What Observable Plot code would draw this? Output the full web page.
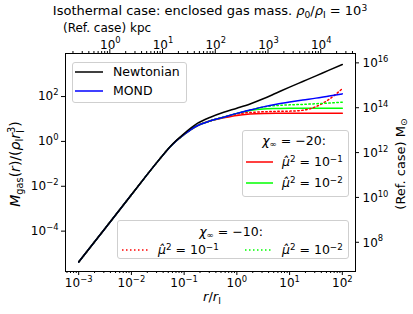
<!DOCTYPE html>
<html><head><meta charset="utf-8">
<script src="https://cdn.jsdelivr.net/npm/d3@7"></script>
<script src="https://cdn.jsdelivr.net/npm/@observablehq/plot@0.6"></script>
<style>
html,body{margin:0;padding:0;background:#fff;}
#wrap{position:relative;width:413px;height:314px;overflow:hidden;font-family:"DejaVu Sans",sans-serif;color:#000;}
#wrap > svg{position:absolute;left:0;top:0;}
.t{position:absolute;white-space:nowrap;line-height:1;}
.t sup{font-size:70%;vertical-align:0.45em;line-height:0;}
.t sub{font-size:70%;vertical-align:-0.3em;line-height:0;}
.leg{position:absolute;border:1px solid #cfcfcf;border-radius:3px;background:rgba(255,255,255,0.8);box-sizing:border-box;}
.sw{position:absolute;overflow:visible;}
</style></head>
<body><div id="wrap"></div>
<script>
// ---- data (log10 values) ----
const logR          = [-3, -2.5, -2, -1.5, -1.25, -1, -0.75, -0.5, -0.25, 0, 0.25, 0.5, 0.75, 1, 1.25, 1.5, 1.75, 2];
const logNewtonian  = [-5.38, -3.88, -2.38, -0.89, -0.19, 0.35, 0.80, 1.08, 1.30, 1.48, 1.67, 1.90, 2.16, 2.42, 2.67, 2.92, 3.18, 3.43];
const logMOND       = [-5.38, -3.88, -2.38, -0.89, -0.20, 0.31, 0.70, 0.92, 1.08, 1.25, 1.40, 1.54, 1.66, 1.76, 1.85, 1.93, 2.03, 2.12];
const logChi20Mu1   = [-5.38, -3.88, -2.38, -0.89, -0.20, 0.31, 0.70, 0.92, 1.05, 1.16, 1.22, 1.25, 1.26, 1.26, 1.26, 1.26, 1.26, 1.26];
const logChi20Mu2   = [-5.38, -3.88, -2.38, -0.89, -0.20, 0.31, 0.70, 0.92, 1.08, 1.25, 1.38, 1.45, 1.47, 1.48, 1.48, 1.48, 1.48, 1.48];
const logChi10Mu1   = [-5.38, -3.88, -2.38, -0.89, -0.20, 0.31, 0.70, 0.92, 1.08, 1.22, 1.29, 1.32, 1.34, 1.35, 1.39, 1.55, 1.88, 2.35];
const logChi10Mu2   = [-5.38, -3.88, -2.38, -0.89, -0.20, 0.31, 0.70, 0.92, 1.08, 1.25, 1.40, 1.53, 1.60, 1.63, 1.65, 1.68, 1.71, 1.75];

const xTickExp   = [-3, -2, -1, 0, 1, 2];
const yTickExp   = [-4, -2, 0, 2];
const kpcTickExp = [0, 1, 2, 3, 4];
const msunTickExp = [8, 10, 12, 14, 16];
const logKpcPerRI = 2.4;     // reference case: r_I in kpc
const logMsunPerUnit = 12.52; // reference case: rho_I r_I^3 in Msun

const xDomain = [10 ** -3.25, 10 ** 2.25];
const yDomain = [10 ** -5.80, 10 ** 3.92];

const rows = vals => logR.map((lr, i) => ({r: 10 ** lr, m: 10 ** vals[i]}));
const pow = e => "10^" + (e < 0 ? "\u2212" + (-e) : String(e));

const minorBottom = [], minorTop = [];
for (let e = -5; e <= 5; e++) for (let k = 2; k <= 9; k++) {
  const v = k * 10 ** e;
  if (v > xDomain[0] && v < xDomain[1]) minorBottom.push(v);
  const w = k * 10 ** e / 10 ** logKpcPerRI;
  if (w > xDomain[0] && w < xDomain[1]) minorTop.push(w);
}

const lineOpts = (stroke, dash) => ({x: "r", y: "m", stroke, strokeWidth: 1.5, curve: "monotone-x", strokeDasharray: dash});

const M = {left: 65, right: 58, top: 53, bottom: 43};
const chart = Plot.plot({
  width: 413, height: 314,
  marginLeft: M.left, marginRight: M.right, marginTop: M.top, marginBottom: M.bottom,
  x: {type: "log", domain: xDomain},
  y: {type: "log", domain: yDomain},
  style: {fontFamily: "DejaVu Sans", fontSize: "12px", background: "white", color: "black", overflow: "visible"},
  marks: [
    Plot.line(rows(logChi20Mu1), lineOpts("#ff0000")),
    Plot.line(rows(logChi20Mu2), lineOpts("#00ff00")),
    Plot.line(rows(logChi10Mu1), lineOpts("#ff0000", "1.5,2.5")),
    Plot.line(rows(logChi10Mu2), lineOpts("#00ff00", "1.5,2.5")),
    Plot.line(rows(logMOND), lineOpts("#0000ff")),
    Plot.line(rows(logNewtonian), lineOpts("#000000")),
    Plot.frame({stroke: "black", strokeWidth: 1}),
    Plot.axisX({anchor: "bottom", ticks: xTickExp.map(e => 10 ** e), tickFormat: d => pow(Math.round(Math.log10(d))), tickSize: 4, tickPadding: 3, label: null}),
    Plot.axisX({anchor: "bottom", ticks: minorBottom, tickFormat: () => "", tickSize: 2, label: null}),
    Plot.axisY({anchor: "left", ticks: yTickExp.map(e => 10 ** e), tickFormat: d => pow(Math.round(Math.log10(d))), tickSize: 4, tickPadding: 3, label: null}),
    // secondary (reference-case) axes: top in kpc, right in solar masses
    Plot.text(kpcTickExp, {x: e => 10 ** e / 10 ** logKpcPerRI, frameAnchor: "top", dy: -5, lineAnchor: "bottom", text: e => pow(e)}),
    Plot.text(msunTickExp, {y: e => 10 ** e / 10 ** logMsunPerUnit, frameAnchor: "right", dx: 7, textAnchor: "start", text: e => pow(e)})
  ]
});

// secondary-axis tick marks, positioned with the Plot scales
const sx = chart.scale("x"), sy = chart.scale("y");
const svg = d3.select(chart);
const yTop = M.top, xRight = 413 - M.right;
const gT = svg.append("g").attr("stroke", "black").attr("stroke-width", 1);
kpcTickExp.forEach(e => { const px = sx.apply(10 ** e / 10 ** logKpcPerRI); gT.append("line").attr("x1", px).attr("x2", px).attr("y1", yTop).attr("y2", yTop - 4); });
minorTop.forEach(v => { const px = sx.apply(v); gT.append("line").attr("x1", px).attr("x2", px).attr("y1", yTop).attr("y2", yTop - 2); });
msunTickExp.forEach(e => { const py = sy.apply(10 ** e / 10 ** logMsunPerUnit); gT.append("line").attr("x1", xRight).attr("x2", xRight + 4).attr("y1", py).attr("y2", py); });

// turn "10^e" tick labels into superscripts
svg.selectAll("text").each(function () {
  const s = this.textContent;
  if (!s.includes("^")) return;
  const [b, e] = s.split("^");
  const t = d3.select(this);
  t.text(null);
  t.append("tspan").text(b);
  t.append("tspan").attr("font-size", "70%").attr("dy", "-0.62em").text(e);
});

const wrap = document.getElementById("wrap");
wrap.appendChild(chart);

function txt(html, x, y, style = "") {
  const d = document.createElement("div");
  d.className = "t";
  d.innerHTML = html;
  d.style.cssText += `left:${x}px;top:${y}px;` + style;
  wrap.appendChild(d);
  return d;
}
function box(x, y, w, h) {
  const d = document.createElement("div");
  d.className = "leg";
  d.style.cssText += `left:${x}px;top:${y}px;width:${w}px;height:${h}px;`;
  wrap.appendChild(d);
}
function swatch(x1, x2, y, color, dash) {
  const ns = "http://www.w3.org/2000/svg";
  const s = document.createElementNS(ns, "svg");
  s.setAttribute("class", "sw");
  s.setAttribute("width", x2 - x1); s.setAttribute("height", 4);
  s.style.left = x1 + "px"; s.style.top = (y - 2) + "px";
  const l = document.createElementNS(ns, "line");
  l.setAttribute("x1", 0); l.setAttribute("x2", x2 - x1);
  l.setAttribute("y1", 2); l.setAttribute("y2", 2);
  l.setAttribute("stroke", color); l.setAttribute("stroke-width", 1.5);
  if (dash) l.setAttribute("stroke-dasharray", dash);
  s.appendChild(l);
  wrap.appendChild(s);
}

// titles and axis labels
txt('Isothermal case: enclosed gas mass. <i>ρ</i><sub>0</sub>/<i>ρ</i><sub>I</sub> = 10<sup>3</sup>', 210, 4, "font-size:13px;transform:translateX(-50%);");
txt('(Ref. case) kpc', 63, 22, "font-size:12px;");
txt('<i>r</i>/<i>r</i><sub>I</sub>', 212, 290, "font-size:13px;transform:translateX(-50%);");
txt('<i>M</i><sub>gas</sub>(<i>r</i>)/(<i>ρ</i><sub>I</sub><i>r</i><span style="display:inline-block;font-size:70%;line-height:0.95;vertical-align:-0.45em;text-align:left;"><span style="display:block">3</span><span style="display:block">I</span></span>)',
    16, 164, "font-size:14px;transform:translate(-50%,-50%) rotate(-90deg);");
txt('(Ref. case) M<sub>⊙</sub>', 400, 164, "font-size:13px;transform:translate(-50%,-50%) rotate(-90deg);");

// legend 1
box(72, 62, 115, 41);
swatch(75, 103, 72.3, "#000000");
txt('Newtonian', 113, 72.3, "font-size:12.5px;transform:translateY(-50%);");
swatch(75, 103, 90.7, "#0000ff");
txt('MOND', 113, 90.7, "font-size:12.5px;transform:translateY(-50%);");

// legend 2 (chi = -20)
box(242, 130, 107, 67);
txt('<i>χ</i><sub>∞</sub> = −20:', 294, 141, "font-size:12.5px;transform:translate(-50%,-50%);");
swatch(246, 273, 161.7, "#ff0000");
txt('<i>μ̂</i><sup>2</sup> = 10<sup>−1</sup>', 282, 161.7, "font-size:12.5px;transform:translateY(-50%);");
swatch(246, 273, 183.3, "#00ff00");
txt('<i>μ̂</i><sup>2</sup> = 10<sup>−2</sup>', 282, 183.3, "font-size:12.5px;transform:translateY(-50%);");

// legend 3 (chi = -10)
box(117, 220, 232, 39);
txt('<i>χ</i><sub>∞</sub> = −10:', 231, 231.5, "font-size:12.5px;transform:translate(-50%,-50%);");
swatch(122, 149, 250, "#ff0000", "1.5,2.5");
txt('<i>μ̂</i><sup>2</sup> = 10<sup>−1</sup>', 158, 250, "font-size:12.5px;transform:translateY(-50%);");
swatch(245, 272, 250, "#00ff00", "1.5,2.5");
txt('<i>μ̂</i><sup>2</sup> = 10<sup>−2</sup>', 282, 250, "font-size:12.5px;transform:translateY(-50%);");
</script>
</body></html>
